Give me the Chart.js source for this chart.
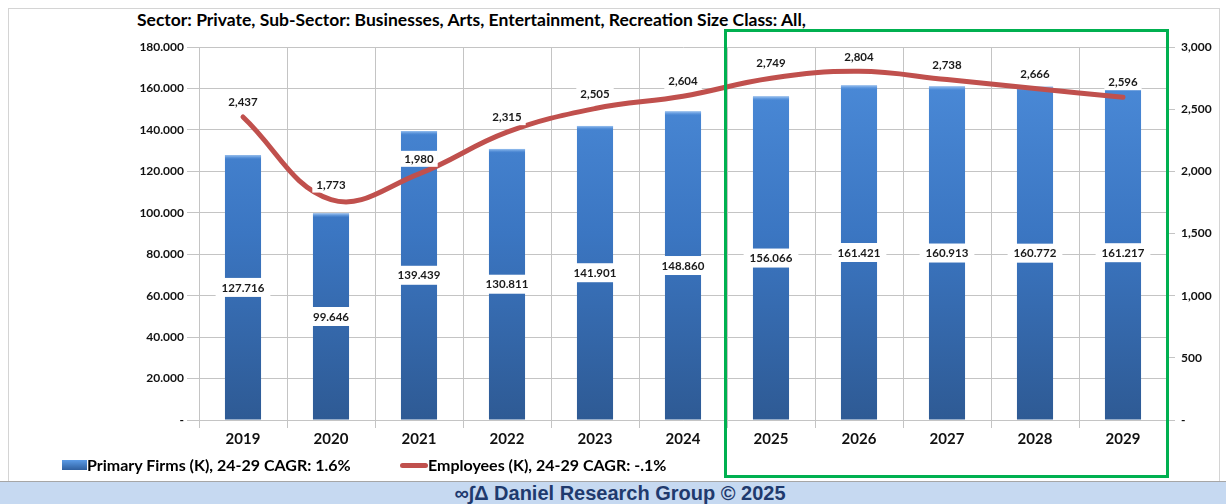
<!DOCTYPE html>
<html>
<head>
<meta charset="utf-8">
<script src="https://cdn.jsdelivr.net/npm/chart.js@4.4.1/dist/chart.umd.min.js"></script>
<style>
  body { margin: 0; background: #fff; font-family: Lato, "Liberation Sans", sans-serif; }
  #wrap { position: relative; width: 1226px; height: 504px; overflow: hidden; }
  #frame { position: absolute; left: 8px; top: 8px; width: 1212px; height: 474px; border: 1px solid #d4d4d4; border-bottom: none; box-sizing: border-box; }
  #title { position: absolute; left: 137px; top: 9px; font-weight: bold; font-size: 17.5px; color: #000; white-space: nowrap; }
  #chart { position: absolute; left: 0; top: 0; }
  #legend { position: absolute; top: 455px; left: 62px; font-weight: bold; font-size: 16px; white-space: nowrap; }
  #legend span { position: absolute; top: 0; }
  .swatch-bar { position: absolute; left: 0; top: 5px; width: 25px; height: 10px; background: linear-gradient(#5b9be6, #2f5f9e); }
  .swatch-line { position: absolute; left: 338px; top: 8px; width: 28px; height: 5px; border-radius: 3px; background: #c0504d; }
  #footer { position: absolute; left: 0; top: 481px; width: 1226px; height: 23px; background: #c6d9f1; border-top: 1px solid #a6a6a6; box-sizing: border-box; text-align: center; padding-left: 14px; font: bold 20px "Liberation Sans", Arial, sans-serif; color: #1f3a6e; line-height: 22px; }
  #green { position: absolute; left: 724px; top: 29px; width: 445px; height: 449px; border: 3px solid #00b050; box-sizing: border-box; pointer-events: none; }
</style>
</head>
<body>
<div id="wrap">
  <div id="frame"></div>
  <div id="title">Sector: Private, Sub-Sector: Businesses, Arts, Entertainment, Recreation Size Class: All,</div>
  <canvas id="chart" width="1226" height="480"></canvas>
  <div id="legend">
    <div class="swatch-bar"></div><span style="left:25px">Primary Firms (K), 24-29 CAGR: 1.6%</span>
    <div class="swatch-line"></div><span style="left:366px">Employees (K), 24-29 CAGR: -.1%</span>
  </div>
  <div id="green"></div>
  <div id="footer">∞∫Δ Daniel Research Group © 2025</div>
</div>

<script>
const years = ["2019", "2020", "2021", "2022", "2023", "2024", "2025", "2026", "2027", "2028", "2029"];
const firms = [127.716, 99.646, 139.439, 130.811, 141.901, 148.860, 156.066, 161.421, 160.913, 160.772, 161.217];
const employees = [2437, 1773, 1980, 2315, 2505, 2604, 2749, 2804, 2738, 2666, 2596];

const FONT = "Lato, 'Liberation Sans', sans-serif";
const GRID = "#c4c4c4";

// light cap on top of each bar, drawn right after the bars (line goes over it)
const barCaps = {
  id: "barCaps",
  afterDatasetDraw(chart, args) {
    if (args.index !== 1) return;
    const ctx = chart.ctx;
    ctx.save();
    args.meta.data.forEach(el => {
      const w = el.width;
      const g = ctx.createLinearGradient(0, el.y, 0, el.y + 4);
      g.addColorStop(0, "#9cc3f0");
      g.addColorStop(1, "rgba(90,150,225,0)");
      ctx.fillStyle = g;
      ctx.fillRect(el.x - w / 2, el.y, w, 4);
    });
    ctx.restore();
  }
};

// white-boxed value labels for bars (middle) and line (above point)
const valueLabels = {
  id: "valueLabels",
  afterDatasetsDraw(chart) {
    const ctx = chart.ctx;
    ctx.save();
    ctx.font = "bold 11.5px " + FONT;
    ctx.textAlign = "center";
    ctx.textBaseline = "middle";

    const box = (txt, x, y, padX, h) => {
      const w = ctx.measureText(txt).width + padX * 2;
      ctx.fillStyle = "#fff";
      ctx.fillRect(x - w / 2, y - h / 2, w, h);
      ctx.fillStyle = "#1a1a1a";
      ctx.fillText(txt, x, y + 0.5);
    };

    chart.getDatasetMeta(1).data.forEach((el, i) => {
      const cy = (el.y + el.base) / 2;
      box(firms[i].toFixed(3), el.x, cy, 6, 19);
    });

    chart.getDatasetMeta(0).data.forEach((pt, i) => {
      box(employees[i].toLocaleString("en-US"), pt.x, pt.y - 15, 4, 16);
    });
    ctx.restore();
  }
};

const barFill = (c) => {
  const { chart } = c;
  const area = chart.chartArea;
  if (!area) return "#3f7fcf";
  const g = chart.ctx.createLinearGradient(0, area.top, 0, area.bottom);
  g.addColorStop(0, "#4d8ddb");
  g.addColorStop(0.5, "#3b76c2");
  g.addColorStop(1, "#2e5a94");
  return g;
};

new Chart(document.getElementById("chart"), {
  type: "bar",
  data: {
    labels: years,
    datasets: [
      {
        type: "line",
        label: "Employees (K), 24-29 CAGR: -.1%",
        data: employees,
        yAxisID: "y1",
        borderColor: "#c0504d",
        borderWidth: 5,
        tension: 0.4,
        pointRadius: 0,
        borderCapStyle: "round",
        order: 0
      },
      {
        type: "bar",
        label: "Primary Firms (K), 24-29 CAGR: 1.6%",
        data: firms,
        yAxisID: "y",
        backgroundColor: barFill,
        borderWidth: 0,
        categoryPercentage: 1,
        barPercentage: 0.41,
        order: 1
      }
    ]
  },
  options: {
    responsive: false,
    devicePixelRatio: 1,
    animation: false,
    layout: { padding: { top: 47, bottom: 30, left: 0, right: 0 } },
    plugins: {
      legend: { display: false },
      tooltip: { enabled: false }
    },
    scales: {
      x: {
        grid: { color: GRID, tickLength: 8, offset: true },
        border: { color: GRID },
        ticks: { color: "#111", font: { family: FONT, size: 15, weight: "bold" }, padding: 2 },
        afterFit: s => { s.height = 30; }
      },
      y: {
        position: "left",
        min: 0,
        max: 180,
        grid: { color: GRID, tickLength: 12 },
        border: { color: GRID },
        ticks: {
          stepSize: 20,
          color: "#111",
          padding: 3,
          font: { family: FONT, size: 12, weight: "bold" },
          callback: v => v === 0 ? "-" : v.toFixed(3)
        },
        afterFit: s => { s.width = 199; }
      },
      y1: {
        position: "right",
        min: 0,
        max: 3000,
        grid: { drawOnChartArea: false, color: GRID, tickLength: 8 },
        border: { display: false },
        ticks: {
          stepSize: 500,
          color: "#111",
          padding: 6,
          font: { family: FONT, size: 12, weight: "bold" },
          callback: v => v === 0 ? "-" : v.toLocaleString("en-US")
        },
        afterFit: s => { s.width = 59; }
      }
    }
  },
  plugins: [barCaps, valueLabels]
});
</script>
</body>
</html>
